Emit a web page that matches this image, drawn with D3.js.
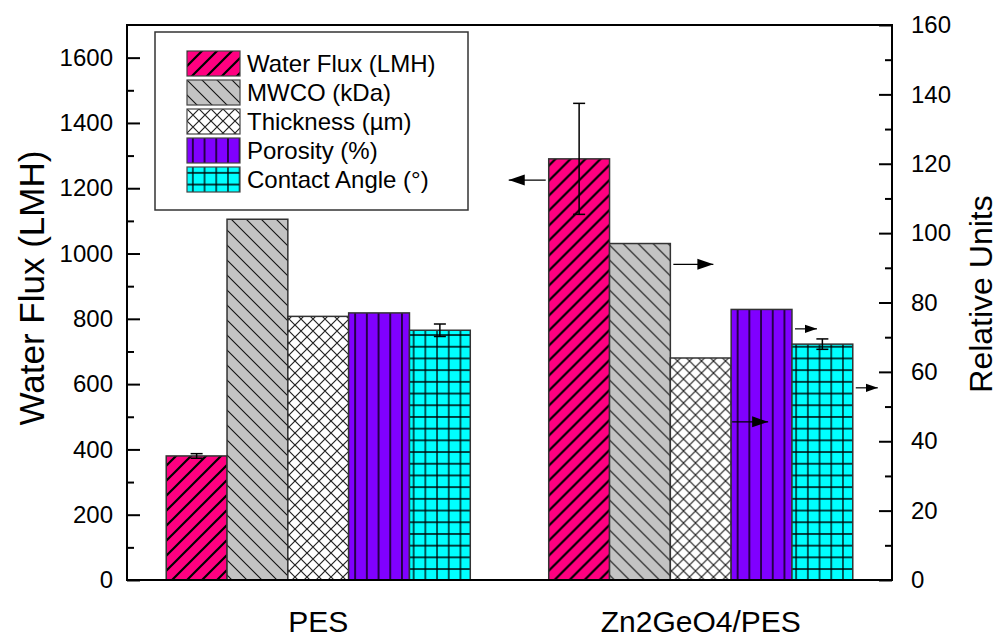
<!DOCTYPE html>
<html>
<head>
<meta charset="utf-8">
<script src="https://cdn.jsdelivr.net/npm/d3@7/dist/d3.min.js"></script>
<style>
  body { margin: 0; background: #fff; }
  svg { font-family: Arial, 'Liberation Sans', sans-serif; }
</style>
</head>
<body>
<svg width="998" height="638"></svg>
<script>
const groups = ['PES', 'Zn2GeO4/PES']
const series = ['Water Flux (LMH)', 'MWCO (kDa)', 'Thickness (µm)', 'Porosity (%)', 'Contact Angle (°)']
// water flux goes on the left axis, the rest on the right one
const waterFlux = [380, 1290]
const waterFluxErr = [7, 170]
const mwco = [104, 97]
const thickness = [76, 64]
const porosity = [77, 78]
const contactAngle = [72, 68]
const contactAngleErr = [1.8, 1.5]
const leftTicks = [0, 200, 400, 600, 800, 1000, 1200, 1400, 1600]
const rightTicks = [0, 20, 40, 60, 80, 100, 120, 140, 160]
// axis pointers: group, series index, value on its axis, direction
const pointers = [
  { group: 1, s: 0, v: 1225, dir: 'left', len: 37 },
  { group: 1, s: 1, v: 91, dir: 'right', len: 40 },
  { group: 1, s: 3, v: 72.4, dir: 'right', len: 22 },
  { group: 1, s: 4, v: 55.4, dir: 'right', len: 22 },
  { group: 1, s: 3, v: 45.6, dir: 'inside', len: 36 }
]

const fills = ['#ff0080', '#c3c3c3', '#ffffff', '#8000ff', '#00ffff']

const svg = d3.select('svg')
const margin = { top: 25, right: 106, bottom: 58, left: 127 }
const width = 998 - margin.left - margin.right
const height = 638 - margin.top - margin.bottom

const defs = svg.append('defs')
function pattern (id, size, bg, draw) {
  const p = defs.append('pattern')
    .attr('id', id)
    .attr('patternUnits', 'userSpaceOnUse')
    .attr('width', size).attr('height', size)
  p.append('rect').attr('width', size).attr('height', size).attr('fill', bg)
  draw(p, size)
}
pattern('p0', 15, fills[0], (p, s) => {
  p.append('path').attr('d', `M0,${s} L${s},0 M${-s / 2},${s / 2} L${s / 2},${-s / 2} M${s / 2},${s * 1.5} L${s * 1.5},${s / 2}`)
    .attr('stroke', '#000').attr('stroke-width', 2.2)
})
pattern('p1', 15, fills[1], (p, s) => {
  p.append('path').attr('d', `M0,0 L${s},${s} M${-s / 2},${s / 2} L${s / 2},${s * 1.5} M${s / 2},${-s / 2} L${s * 1.5},${s / 2}`)
    .attr('stroke', '#111').attr('stroke-width', 1.1)
})
pattern('p2', 12, fills[2], (p, s) => {
  p.append('path').attr('d', `M0,0 L${s},${s} M0,${s} L${s},0`)
    .attr('stroke', '#222').attr('stroke-width', 1.2)
})
pattern('p3', 11.7, fills[3], (p, s) => {
  p.append('path').attr('d', `M${s / 2},0 V${s}`).attr('stroke', '#000').attr('stroke-width', 1.4)
})
pattern('p4', 11.7, fills[4], (p, s) => {
  p.append('path').attr('d', `M${s / 2},0 V${s} M0,${s / 2} H${s}`).attr('stroke', '#000').attr('stroke-width', 1.3)
})

const g = svg.append('g')
  .attr('transform', 'translate(' + margin.left + ',' + margin.top + ')')

const x0 = d3.scaleBand().domain(groups).range([0, width]).padding(0)
const x1 = d3.scaleBand().domain(series).range([0, x0.bandwidth()]).paddingInner(0).paddingOuter(0.645)
const yLeft = d3.scaleLinear().domain([0, 1700]).range([height, 0])
const yRight = d3.scaleLinear().domain([0, 160]).range([height, 0])

const rows = groups.map((grp, i) => [
  { grp, s: 0, v: waterFlux[i], err: waterFluxErr[i], y: yLeft },
  { grp, s: 1, v: mwco[i], y: yRight },
  { grp, s: 2, v: thickness[i], y: yRight },
  { grp, s: 3, v: porosity[i], y: yRight },
  { grp, s: 4, v: contactAngle[i], err: contactAngleErr[i], y: yRight }
])

const bars = g.append('g').selectAll('g')
  .data(rows)
  .enter().append('g')
  .attr('transform', (d, i) => 'translate(' + x0(groups[i]) + ',0)')

bars.selectAll('rect')
  .data(d => d)
  .enter().append('rect')
  .attr('x', d => x1(series[d.s]))
  .attr('y', d => d.y(d.v))
  .attr('width', x1.bandwidth())
  .attr('height', d => height - d.y(d.v))
  .attr('fill', d => 'url(#p' + d.s + ')')
  .attr('stroke', '#333')
  .attr('stroke-width', 1.5)

// error bars
const eb = bars.selectAll('g.err')
  .data(d => d.filter(e => e.err))
  .enter().append('g')
  .attr('class', 'err')
  .attr('stroke', '#000')
  .attr('stroke-width', 1.5)
eb.append('line')
  .attr('x1', d => x1(series[d.s]) + x1.bandwidth() / 2)
  .attr('x2', d => x1(series[d.s]) + x1.bandwidth() / 2)
  .attr('y1', d => d.y(d.v + d.err))
  .attr('y2', d => d.y(d.v - d.err))
eb.append('line')
  .attr('x1', d => x1(series[d.s]) + x1.bandwidth() / 2 - 6)
  .attr('x2', d => x1(series[d.s]) + x1.bandwidth() / 2 + 6)
  .attr('y1', d => d.y(d.v + d.err))
  .attr('y2', d => d.y(d.v + d.err))
eb.append('line')
  .attr('x1', d => x1(series[d.s]) + x1.bandwidth() / 2 - 6)
  .attr('x2', d => x1(series[d.s]) + x1.bandwidth() / 2 + 6)
  .attr('y1', d => d.y(d.v - d.err))
  .attr('y2', d => d.y(d.v - d.err))

// axis pointer arrows
defs.append('marker')
  .attr('id', 'arr')
  .attr('viewBox', '0 0 10 10')
  .attr('refX', 10).attr('refY', 5)
  .attr('markerWidth', 12).attr('markerHeight', 12)
  .attr('markerUnits', 'userSpaceOnUse')
  .attr('orient', 'auto')
  .append('path').attr('d', 'M0,1.5 L10,5 L0,8.5 Z').attr('fill', '#000')

pointers.forEach(p => {
  const bx = x0(groups[p.group]) + x1(series[p.s])
  const yy = p.s === 0 ? yLeft(p.v) : yRight(p.v)
  let xa, xb
  if (p.dir === 'left') { xa = bx - 3; xb = bx - 3 - p.len } else if (p.dir === 'right') { xa = bx + x1.bandwidth() + 3; xb = xa + p.len } else { xa = bx + 1; xb = bx + 1 + p.len }
  const big = p.len > 30
  g.append('line')
    .attr('x1', xa).attr('x2', xb)
    .attr('y1', yy).attr('y2', yy)
    .attr('stroke', '#000').attr('stroke-width', 1.2)
    .attr('marker-end', big ? null : 'url(#arr)')
  if (big) {
    g.append('path')
      .attr('d', p.dir === 'left'
        ? `M${xb},${yy} l16,-5.5 l0,11 Z`
        : `M${xb},${yy} l-16,-5.5 l0,11 Z`)
      .attr('fill', '#000')
  }
})

// axes
const tickFont = '24px'
const fmt = d3.format('d')
const axL = g.append('g')
  .call(d3.axisLeft(yLeft).tickValues(leftTicks).tickFormat(fmt).tickSizeInner(-13).tickSizeOuter(0).tickPadding(14))
axL.append('g').call(d3.axisLeft(yLeft).tickValues(d3.range(100, 1700, 200)).tickSize(-7).tickFormat(''))
const axR = g.append('g')
  .attr('transform', 'translate(' + width + ',0)')
  .call(d3.axisRight(yRight).tickValues(rightTicks).tickFormat(fmt).tickSizeInner(-13).tickSizeOuter(0).tickPadding(19))
axR.append('g').call(d3.axisRight(yRight).tickValues(d3.range(10, 160, 20)).tickSize(-7).tickFormat(''))
g.selectAll('.domain').remove()
g.selectAll('.tick line').attr('stroke', '#000').attr('stroke-width', 2)
g.selectAll('.tick text').attr('font-size', tickFont).attr('fill', '#000').attr('font-family', 'Arial, Liberation Sans, sans-serif')

g.append('rect')
  .attr('width', width).attr('height', height)
  .attr('fill', 'none').attr('stroke', '#000').attr('stroke-width', 2)

// category labels
g.selectAll('text.cat')
  .data(groups)
  .enter().append('text')
  .attr('class', 'cat')
  .attr('x', d => x0(d) + x0.bandwidth() / 2)
  .attr('y', height + 52)
  .attr('text-anchor', 'middle')
  .attr('font-size', '30px')
  .text(d => d)

svg.append('text')
  .attr('transform', 'translate(44,288) rotate(-90)')
  .attr('text-anchor', 'middle')
  .attr('font-size', '35px')
  .text('Water Flux (LMH)')
svg.append('text')
  .attr('transform', 'translate(992,294) rotate(-90)')
  .attr('text-anchor', 'middle')
  .attr('font-size', '32px')
  .text('Relative Units')

// legend
const lg = svg.append('g').attr('transform', 'translate(155,32)')
lg.append('rect')
  .attr('width', 313).attr('height', 178)
  .attr('fill', '#fff').attr('stroke', '#333').attr('stroke-width', 1.5)
const li = lg.selectAll('g.li')
  .data(series)
  .enter().append('g')
  .attr('class', 'li')
  .attr('transform', (d, i) => 'translate(32,' + (19 + i * 29) + ')')
li.append('rect')
  .attr('width', 53).attr('height', 25)
  .attr('fill', (d, i) => 'url(#p' + i + ')')
  .attr('stroke', '#444').attr('stroke-width', 1.2)
li.append('text')
  .attr('x', 60).attr('y', 21)
  .attr('font-size', '24px')
  .text(d => d)
</script>
</body>
</html>
